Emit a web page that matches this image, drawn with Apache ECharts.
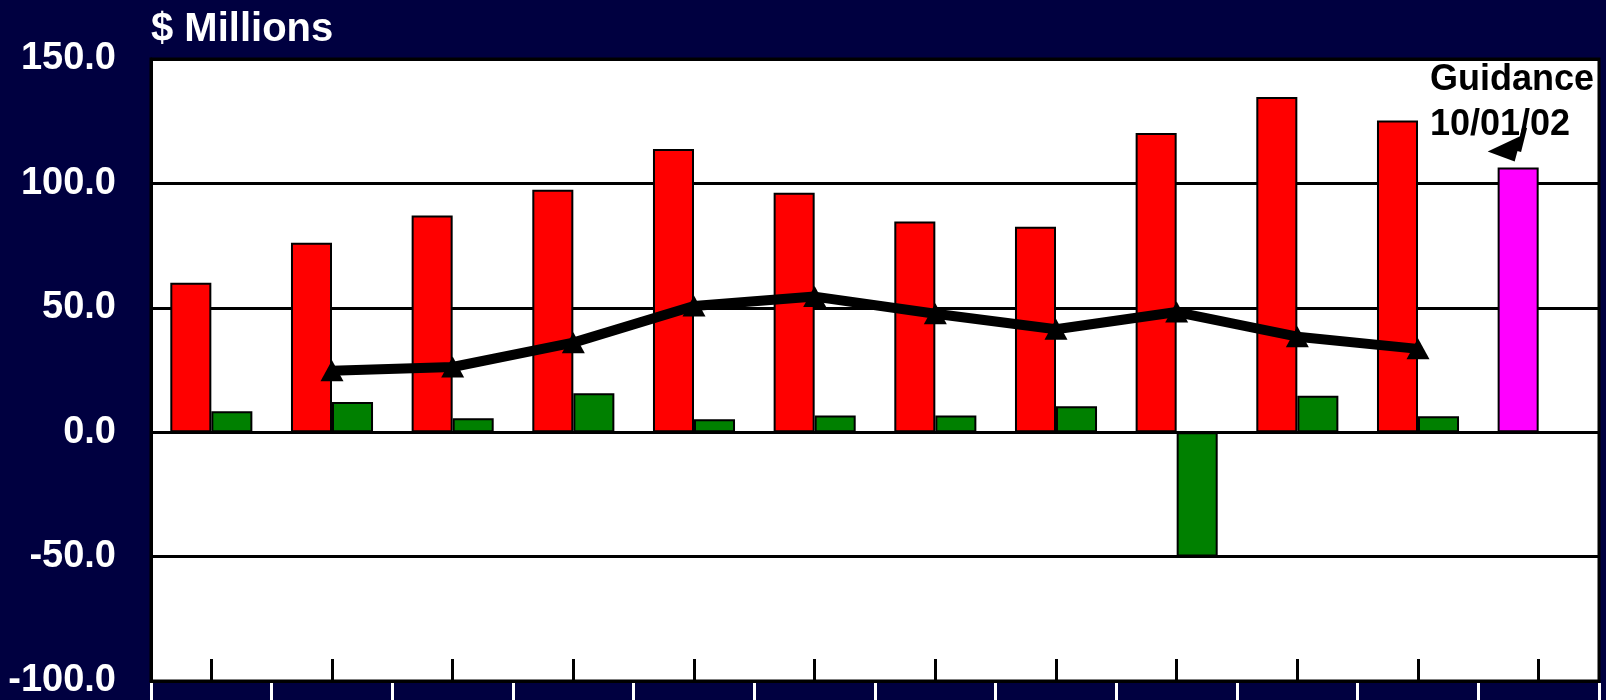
<!DOCTYPE html>
<html>
<head>
<meta charset="utf-8">
<script src="https://cdn.jsdelivr.net/npm/echarts@6/dist/echarts.min.js"></script>
<style>
  html, body { margin: 0; padding: 0; background: #000040; }
  #chart { width: 1606px; height: 700px; }
</style>
</head>
<body>
<div id="chart"></div>
<script>
  // 数据 (labels sit below the cropped edge, so they are left empty)
  const categories = ['Q1 00', 'Q2 00', 'Q3 00', 'Q4 00', 'Q1 01', 'Q2 01', 'Q3 01', 'Q4 01', 'Q1 02', 'Q2 02', 'Q3 02', 'Guidance'];
  const redValues = [60.1, 76.1, 87.1, 97.4, 113.8, 96.2, 84.7, 82.6, 120.3, 134.7, 125.3, 106.4];
  const greenValues = [8.4, 12.1, 5.6, 15.7, 5.2, 6.7, 6.7, 10.4, -50.0, 14.7, 6.4, null];
  const lineValues = [null, 24.7, 26.2, 36.0, 50.7, 54.5, 47.6, 41.4, 48.3, 38.4, 33.5, null];
  const yTicks = { min: -100, max: 150, interval: 50 };
  const guidanceIndex = 11;

  const font = 'Liberation Sans, Arial, sans-serif';
  const myChart = echarts.init(document.getElementById('chart'));

  myChart.setOption({
    animation: false,
    backgroundColor: '#000040',
    title: {
      text: '$ Millions',
      left: 146,
      top: 5,
      textStyle: { color: '#fff', fontSize: 40, fontWeight: 'bold', fontFamily: font }
    },
    grid: {
      left: 151, top: 59, width: 1448, height: 624,
      show: true,
      backgroundColor: '#fff',
      borderColor: '#000',
      borderWidth: 3
    },
    xAxis: [
      {
        type: 'category',
        data: categories,
        axisLine: { show: true, onZero: false, lineStyle: { color: '#000', width: 3 } },
        axisTick: { show: true, interval: 0, alignWithLabel: true, inside: true, length: 22, lineStyle: { color: '#000', width: 3 } },
        axisLabel: { show: true, interval: 0, fontSize: 10, formatter: () => '' }
      },
      {
        // white separators under the axis, at category edges
        type: 'category',
        data: categories,
        position: 'bottom',
        offset: 2,
        axisLine: { show: false, onZero: false },
        axisTick: { show: true, interval: 0, alignWithLabel: false, length: 20, lineStyle: { color: '#fff', width: 3 } },
        axisLabel: { show: true, interval: 0, fontSize: 10, formatter: () => '' }
      }
    ],
    yAxis: {
      type: 'value',
      min: yTicks.min,
      max: yTicks.max,
      interval: yTicks.interval,
      axisLine: { show: true, lineStyle: { color: '#000', width: 3 } },
      axisTick: { show: false },
      splitLine: { lineStyle: { color: '#000', width: 3 } },
      axisLabel: {
        margin: 35,
        color: '#fff',
        fontSize: 38,
        fontWeight: 'bold',
        fontFamily: font,
        formatter: v => v.toFixed(1)
      }
    },
    series: [
      {
        type: 'bar',
        data: redValues.map((v, i) => i === guidanceIndex ? { value: v, itemStyle: { color: '#ff00ff' } } : v),
        barCategoryGap: '32%',
        barGap: '0%',
        itemStyle: { color: '#ff0000', borderColor: '#000', borderWidth: 2 }
      },
      {
        type: 'bar',
        data: greenValues,
        itemStyle: { color: '#008000', borderColor: '#000', borderWidth: 2 }
      },
      {
        type: 'line',
        data: lineValues,
        connectNulls: false,
        symbol: 'triangle',
        symbolSize: [23, 21],
        lineStyle: { color: '#000', width: 10 },
        itemStyle: { color: '#000' },
        z: 5
      }
    ]
  });

  // 注释：Guidance + 箭头, anchored on the guidance bar top
  const barTop = myChart.convertToPixel({ seriesIndex: 0 }, [guidanceIndex, redValues[guidanceIndex]]);
  const tipX = barTop[0] - 24, tipY = barTop[1] - 6;
  myChart.setOption({
    graphic: [
      {
        type: 'text',
        left: 1430,
        top: 58,
        style: {
          text: 'Guidance\n10/01/02',
          fill: '#000',
          font: 'bold 36px ' + font,
          lineHeight: 45
        },
        z: 10
      },
      {
        type: 'line',
        shape: { x1: tipX + 10, y1: tipY - 34, x2: tipX + 4, y2: tipY - 10 },
        style: { stroke: '#000', lineWidth: 5 },
        z: 11
      },
      {
        type: 'polygon',
        shape: { points: [[tipX, tipY], [tipX - 27, tipY - 10], [tipX + 7, tipY - 26]] },
        style: { fill: '#000' },
        z: 11
      }
    ]
  });

  window.addEventListener('resize', function () { myChart.resize() });
</script>
</body>
</html>
